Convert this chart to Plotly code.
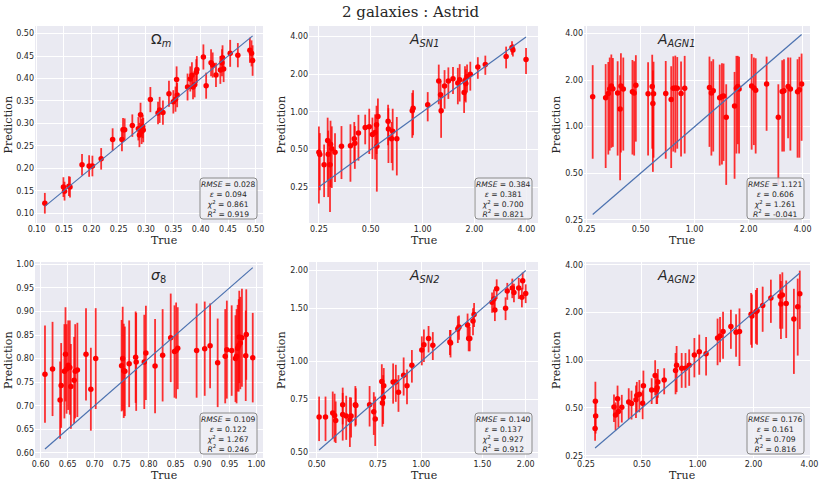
import math
import plotly.graph_objects as go

# ---------------- data ----------------
om_true = [0.115, 0.149, 0.151, 0.159, 0.161, 0.183, 0.196, 0.202, 0.218, 0.239, 0.256, 0.258, 0.261,
           0.275, 0.286, 0.288, 0.290, 0.292, 0.294, 0.295, 0.308, 0.322, 0.325, 0.331, 0.342, 0.350,
           0.354, 0.356, 0.357, 0.376, 0.381, 0.384, 0.386, 0.389, 0.392, 0.393, 0.405, 0.410, 0.419,
           0.422, 0.428, 0.436, 0.439, 0.440, 0.442, 0.454, 0.468, 0.490, 0.493, 0.495]
om_pred = [0.122, 0.158, 0.149, 0.160, 0.158, 0.208, 0.205, 0.205, 0.221, 0.264, 0.264, 0.286, 0.286,
           0.295, 0.288, 0.274, 0.319, 0.282, 0.293, 0.285, 0.353, 0.323, 0.330, 0.324, 0.366, 0.348,
           0.354, 0.398, 0.363, 0.381, 0.399, 0.407, 0.381, 0.386, 0.414, 0.420, 0.448, 0.384, 0.435,
           0.430, 0.408, 0.419, 0.435, 0.446, 0.421, 0.456, 0.452, 0.463, 0.456, 0.440]
om_err = [0.023, 0.022, 0.021, 0.022, 0.023, 0.024, 0.024, 0.023, 0.024, 0.025, 0.026, 0.026, 0.025,
          0.025, 0.026, 0.027, 0.027, 0.028, 0.026, 0.027, 0.028, 0.025, 0.029, 0.027, 0.029, 0.026,
          0.028, 0.029, 0.027, 0.030, 0.028, 0.029, 0.027, 0.028, 0.029, 0.030, 0.028, 0.029, 0.030,
          0.028, 0.027, 0.031, 0.030, 0.028, 0.029, 0.030, 0.027, 0.028, 0.029, 0.034]

sn1_true = [0.250, 0.253, 0.268, 0.281, 0.283, 0.290, 0.292, 0.297, 0.310, 0.338, 0.381, 0.401, 0.404,
            0.424, 0.464, 0.490, 0.511, 0.530, 0.540, 0.542, 0.550, 0.630, 0.633, 0.660, 0.670, 0.708,
            0.870, 0.880, 1.07, 1.24, 1.27, 1.28, 1.34, 1.41, 1.50, 1.60, 1.64, 1.74, 1.76, 1.78, 1.81,
            1.89, 2.09, 2.31, 3.05, 3.30, 3.34, 3.98]
sn1_pred = [0.475, 0.456, 0.378, 0.589, 0.458, 0.378, 0.550, 0.506, 0.475, 0.530, 0.536, 0.610, 0.560,
            0.677, 0.750, 0.760, 0.660, 0.685, 0.790, 0.530, 0.920, 0.840, 0.730, 0.610, 0.700, 0.610,
            1.02, 1.07, 1.14, 1.77, 1.37, 1.02, 1.61, 1.77, 1.84, 1.70, 1.81, 1.43, 1.77, 1.69, 1.91,
            2.00, 2.29, 2.40, 2.78, 3.27, 3.13, 2.63]
sn1_err = [0.29, 0.22, 0.17, 0.31, 0.25, 0.22, 0.30, 0.26, 0.20, 0.24, 0.26, 0.22, 0.21, 0.27, 0.20,
           0.30, 0.24, 0.27, 0.33, 0.30, 0.36, 0.30, 0.34, 0.22, 0.36, 0.30, 0.40, 0.42, 0.30, 0.62,
           0.40, 0.40, 0.55, 0.50, 0.45, 0.55, 0.60, 0.45, 0.55, 0.50, 0.48, 0.52, 0.45, 0.42, 0.55,
           0.40, 0.35, 0.62]

agn1_true = [0.27, 0.319, 0.33, 0.336, 0.343, 0.35, 0.372, 0.384, 0.388, 0.40, 0.45, 0.46, 0.47, 0.55,
             0.58, 0.585, 0.59, 0.69, 0.74, 0.76, 0.78, 0.80, 0.84, 0.88, 1.21, 1.24, 1.27, 1.38, 1.42,
             1.45, 1.50, 1.67, 1.71, 1.74, 1.77, 2.08, 2.14, 2.19, 2.52, 2.93, 3.08, 3.15, 3.32, 3.42,
             3.75, 3.84, 3.95]
agn1_pred = [1.56, 1.54, 1.64, 1.75, 1.83, 1.76, 1.65, 1.30, 1.83, 1.75, 1.68, 1.65, 1.85, 1.63, 1.82,
             1.41, 1.63, 1.64, 1.50, 1.77, 1.78, 1.77, 1.64, 1.77, 1.79, 1.65, 1.71, 1.54, 1.57, 1.58,
             1.15, 1.36, 1.77, 1.82, 1.75, 1.83, 1.78, 1.72, 1.89, 1.15, 1.69, 1.71, 1.82, 1.75, 1.68,
             1.73, 1.89]
agn1_err = [0.94, 1.00, 0.98, 1.05, 1.10, 1.02, 1.00, 0.85, 1.15, 1.05, 1.02, 1.00, 1.05, 0.98, 1.10,
            0.90, 1.00, 1.02, 0.96, 1.08, 1.10, 1.05, 1.00, 1.10, 1.05, 1.00, 1.02, 0.98, 1.00, 0.98,
            0.73, 0.90, 1.10, 1.05, 1.08, 1.12, 1.02, 1.05, 0.95, 0.73, 1.00, 1.02, 0.98, 1.05, 1.05,
            1.10, 1.08]

s8_true = [0.608, 0.622, 0.636, 0.638, 0.644, 0.646, 0.648, 0.651, 0.654, 0.656, 0.662, 0.664, 0.668,
           0.684, 0.693, 0.702, 0.750, 0.752, 0.754, 0.756, 0.764, 0.776, 0.777, 0.792, 0.795, 0.812,
           0.826, 0.841, 0.848, 0.851, 0.854, 0.889, 0.904, 0.914, 0.928, 0.942, 0.945, 0.954, 0.961,
           0.963, 0.965, 0.967, 0.968, 0.970, 0.973, 0.980, 0.981, 0.993]
s8_pred = [0.767, 0.778, 0.712, 0.743, 0.773, 0.809, 0.778, 0.786, 0.781, 0.741, 0.754, 0.773, 0.776,
           0.809, 0.735, 0.800, 0.785, 0.800, 0.774, 0.773, 0.789, 0.803, 0.793, 0.793, 0.812, 0.784,
           0.807, 0.844, 0.815, 0.817, 0.822, 0.817, 0.821, 0.827, 0.791, 0.805, 0.819, 0.817, 0.800,
           0.805, 0.822, 0.828, 0.846, 0.833, 0.844, 0.806, 0.851, 0.802]
s8_err = [0.103, 0.100, 0.082, 0.090, 0.100, 0.100, 0.095, 0.095, 0.100, 0.090, 0.092, 0.100, 0.100,
          0.098, 0.088, 0.107, 0.097, 0.110, 0.100, 0.095, 0.092, 0.097, 0.104, 0.100, 0.100, 0.100,
          0.098, 0.094, 0.098, 0.102, 0.087, 0.100, 0.100, 0.090, 0.094, 0.100, 0.104, 0.096, 0.092,
          0.100, 0.092, 0.098, 0.098, 0.098, 0.104, 0.096, 0.096, 0.095]

sn2_true = [0.508, 0.530, 0.556, 0.563, 0.567, 0.594, 0.594, 0.608, 0.623, 0.628, 0.646, 0.648, 0.710,
            0.730, 0.737, 0.770, 0.773, 0.777, 0.780, 0.830, 0.845, 0.860, 0.890, 0.910, 0.940, 1.004,
            1.018, 1.05, 1.08, 1.21, 1.215, 1.275, 1.285, 1.36, 1.37, 1.38, 1.41, 1.42, 1.60, 1.62,
            1.63, 1.65, 1.75, 1.77, 1.83, 1.85, 1.91, 1.95, 1.96, 2.00]
sn2_pred = [0.654, 0.654, 0.674, 0.661, 0.636, 0.718, 0.666, 0.659, 0.640, 0.659, 0.718, 0.714, 0.718,
            0.680, 0.644, 0.858, 0.727, 0.760, 0.830, 0.854, 0.854, 0.790, 0.900, 0.830, 0.970, 1.09,
            1.135, 1.19, 1.13, 1.16, 1.15, 1.28, 1.30, 1.32, 1.19, 1.19, 1.36, 1.43, 1.57, 1.61, 1.48,
            1.74, 1.50, 1.71, 1.75, 1.69, 1.75, 1.63, 1.85, 1.68]
sn2_err = [0.11, 0.11, 0.12, 0.12, 0.10, 0.10, 0.12, 0.11, 0.12, 0.10, 0.11, 0.10, 0.11, 0.11, 0.12,
           0.12, 0.12, 0.14, 0.12, 0.13, 0.12, 0.11, 0.13, 0.11, 0.12, 0.12, 0.14, 0.12, 0.12, 0.11,
           0.12, 0.13, 0.12, 0.12, 0.11, 0.11, 0.14, 0.13, 0.12, 0.12, 0.12, 0.13, 0.13, 0.11, 0.13,
           0.12, 0.14, 0.12, 0.12, 0.12]

agn2_true = [0.280, 0.281, 0.282, 0.354, 0.361, 0.370, 0.374, 0.390, 0.425, 0.440, 0.465, 0.470, 0.485,
             0.505, 0.510, 0.565, 0.590, 0.600, 0.605, 0.610, 0.660, 0.760, 0.770, 0.820, 0.860, 0.900,
             0.960, 1.02, 1.11, 1.28, 1.32, 1.37, 1.51, 1.61, 1.68, 1.94, 1.96, 2.06, 2.09, 2.24, 2.48,
             2.78, 2.81, 2.86, 3.00, 3.30, 3.46, 3.55]
agn2_pred = [0.371, 0.552, 0.445, 0.508, 0.452, 0.572, 0.476, 0.505, 0.546, 0.533, 0.563, 0.600, 0.610,
             0.535, 0.690, 0.650, 0.800, 0.650, 0.670, 0.730, 0.750, 0.860, 0.930, 0.890, 0.890, 0.930,
             1.08, 1.13, 1.10, 1.38, 1.42, 1.52, 1.63, 1.50, 1.52, 1.95, 1.90, 2.02, 2.05, 2.21, 2.47,
             2.53, 2.26, 2.58, 2.28, 1.82, 2.17, 2.62]
agn2_err = [0.06, 0.18, 0.10, 0.10, 0.09, 0.12, 0.10, 0.10, 0.12, 0.11, 0.13, 0.13, 0.14, 0.11, 0.17,
            0.12, 0.20, 0.12, 0.14, 0.15, 0.14, 0.25, 0.30, 0.22, 0.22, 0.24, 0.30, 0.32, 0.30, 0.45,
            0.45, 0.50, 0.45, 0.45, 0.60, 0.70, 0.70, 0.75, 0.80, 0.70, 0.75, 0.95, 0.90, 1.00, 0.90,
            1.00, 1.10, 1.05]

# RMSE, epsilon, chi2, R2
om_stats = ["0.028", "0.094", "0.861", "0.919"]
sn1_stats = ["0.384", "0.381", "0.700", "0.821"]
agn1_stats = ["1.121", "0.606", "1.261", "-0.041"]
s8_stats = ["0.109", "0.122", "1.267", "0.246"]
sn2_stats = ["0.140", "0.137", "0.927", "0.912"]
agn2_stats = ["0.176", "0.161", "0.709", "0.816"]

lin_om_ticks = [0.10, 0.15, 0.20, 0.25, 0.30, 0.35, 0.40, 0.45, 0.50]
lin_s8_ticks = [0.60, 0.65, 0.70, 0.75, 0.80, 0.85, 0.90, 0.95, 1.00]
log_ticks = [0.25, 0.5, 1.0, 2.0, 4.0]
log_sn2_ticks = [0.5, 0.75, 1.0, 1.5, 2.0]

# ---------------- layout helpers ----------------
W, H = 822, 485
cols = [(35, 263), (309, 538), (584, 810)]
rows = [(26, 223), (262, 458)]
ytitle_x = [8, 281, 556]
xtitle_y = [240, 475]

def fx(px):
    return px / W

def fy(py):
    return 1 - py / H

panels = [
    dict(title="Ω<sub><i>m</i></sub>", x=om_true, y=om_pred, e=om_err, log=False,
         xr=[0.097, 0.514], yr=[0.078, 0.517], xt=lin_om_ticks, yt=lin_om_ticks, st=om_stats),
    dict(title="<i>A</i><sub><i>SN1</i></sub>", x=sn1_true, y=sn1_pred, e=sn1_err, log=True,
         xr=[0.219, 4.67], yr=[0.129, 4.87], xt=log_ticks, yt=log_ticks, st=sn1_stats),
    dict(title="<i>A</i><sub><i>AGN1</i></sub>", x=agn1_true, y=agn1_pred, e=agn1_err, log=True,
         xr=[0.2415, 4.40], yr=[0.238, 4.48], xt=log_ticks, yt=log_ticks, st=agn1_stats),
    dict(title="<i>σ</i><sub>8</sub>", x=s8_true, y=s8_pred, e=s8_err, log=False,
         xr=[0.5895, 1.012], yr=[0.589, 1.005], xt=lin_s8_ticks, yt=lin_s8_ticks, st=s8_stats),
    dict(title="<i>A</i><sub><i>SN2</i></sub>", x=sn2_true, y=sn2_pred, e=sn2_err, log=True,
         xr=[0.475, 2.17], yr=[0.478, 2.135], xt=log_sn2_ticks, yt=log_sn2_ticks, st=sn2_stats),
    dict(title="<i>A</i><sub><i>AGN2</i></sub>", x=agn2_true, y=agn2_pred, e=agn2_err, log=True,
         xr=[0.244, 4.03], yr=[0.242, 4.16], xt=log_ticks, yt=log_ticks, st=agn2_stats),
]

fig = go.Figure()
layout = dict(width=W, height=H, margin=dict(l=0, r=0, t=0, b=0, autoexpand=False),
              paper_bgcolor="white", plot_bgcolor="#EAEAF2", showlegend=False)
annotations = []
shapes = []
tick_font = dict(family="DejaVu Sans", size=8, color="#262626")
lab_font = dict(family="DejaVu Serif", size=11, color="#262626")

for i, p in enumerate(panels):
    r, c = divmod(i, 3)
    x0, x1 = cols[c]
    y0, y1 = rows[r]
    n = "" if i == 0 else str(i + 1)

    fig.add_trace(go.Scatter(
        x=p["x"], y=p["y"], mode="markers", xaxis="x" + n, yaxis="y" + n,
        marker=dict(color="red", size=5.5),
        error_y=dict(type="data", array=p["e"], visible=True, color="rgba(255,0,0,0.8)",
                     thickness=1.8, width=0),
        hoverinfo="skip"))
    lo, hi = min(p["x"]), max(p["x"])
    fig.add_trace(go.Scatter(x=[lo, hi], y=[lo, hi], mode="lines", xaxis="x" + n, yaxis="y" + n,
                             line=dict(color="#4C72B0", width=1.2), hoverinfo="skip"))

    if p["log"]:
        xr = [math.log10(v) for v in p["xr"]]
        yr = [math.log10(v) for v in p["yr"]]
        atype = "log"
    else:
        xr, yr, atype = p["xr"], p["yr"], "linear"

    common = dict(showgrid=True, gridcolor="white", gridwidth=1, zeroline=False, showline=False,
                  ticks="", tickfont=tick_font, type=atype, automargin=False)
    layout["xaxis" + n] = dict(common, domain=[fx(x0), fx(x1)], range=xr, anchor="y" + n,
                               tickvals=p["xt"], ticktext=["%.2f" % v for v in p["xt"]])
    layout["yaxis" + n] = dict(common, domain=[fy(y1), fy(y0)], range=yr, anchor="x" + n,
                               tickvals=p["yt"], ticktext=["%.2f" % v for v in p["yt"]])

    # axis titles
    annotations.append(dict(x=fx((x0 + x1) / 2), y=fy(xtitle_y[r]), xref="paper", yref="paper",
                            text="True", showarrow=False, yanchor="middle", font=lab_font))
    annotations.append(dict(x=fx(ytitle_x[c]), y=fy((y0 + y1) / 2), xref="paper", yref="paper",
                            text="Prediction", showarrow=False, textangle=-90,
                            xanchor="center", yanchor="middle", font=lab_font))

    # panel title
    annotations.append(dict(x=fx((x0 + x1) / 2), y=fy(y0 + 3), xref="paper", yref="paper",
                            text=p["title"], showarrow=False, yanchor="top",
                            font=dict(family="DejaVu Sans", size=14, color="#262626")))

    # stats box, rounded
    bx1 = x1 - 6
    bx0 = bx1 - 57
    by1 = y1 - 4
    by0 = by1 - 41
    rad = 3
    a0, a1, b0, b1 = fx(bx0), fx(bx1), fy(by1), fy(by0)
    rx, ry = rad / W, rad / H
    path = (f"M {a0+rx},{b0} L {a1-rx},{b0} Q {a1},{b0} {a1},{b0+ry} L {a1},{b1-ry} "
            f"Q {a1},{b1} {a1-rx},{b1} L {a0+rx},{b1} Q {a0},{b1} {a0},{b1-ry} "
            f"L {a0},{b0+ry} Q {a0},{b0} {a0+rx},{b0} Z")
    shapes.append(dict(type="path", path=path, xref="paper", yref="paper",
                       line=dict(color="#8a8a8a", width=1), fillcolor="rgba(238,238,244,0.85)"))
    st = p["st"]
    txt = (f"<i>RMSE</i> = {st[0]}<br><i>ε</i> = {st[1]}<br>"
           f"<i>χ</i><sup>2</sup> = {st[2]}<br><i>R</i><sup>2</sup> = {st[3]}")
    annotations.append(dict(x=fx((bx0 + bx1) / 2), y=fy((by0 + by1) / 2 + 0.5), xref="paper",
                            yref="paper", text=txt, showarrow=False, align="center",
                            xanchor="center", yanchor="middle",
                            font=dict(family="DejaVu Sans", size=7.6, color="#262626")))

annotations.append(dict(x=0.5, y=fy(12), xref="paper", yref="paper", text="2 galaxies : Astrid",
                        showarrow=False, yanchor="middle",
                        font=dict(family="DejaVu Serif", size=15, color="#262626")))

layout["annotations"] = annotations
layout["shapes"] = shapes
fig.update_layout(**layout)
# drop the browser's default 8px page margin so the figure sits at the top-left corner
fig.write_html("out.html", config={"displayModeBar": False},
               post_script="document.body.style.margin='0';")
